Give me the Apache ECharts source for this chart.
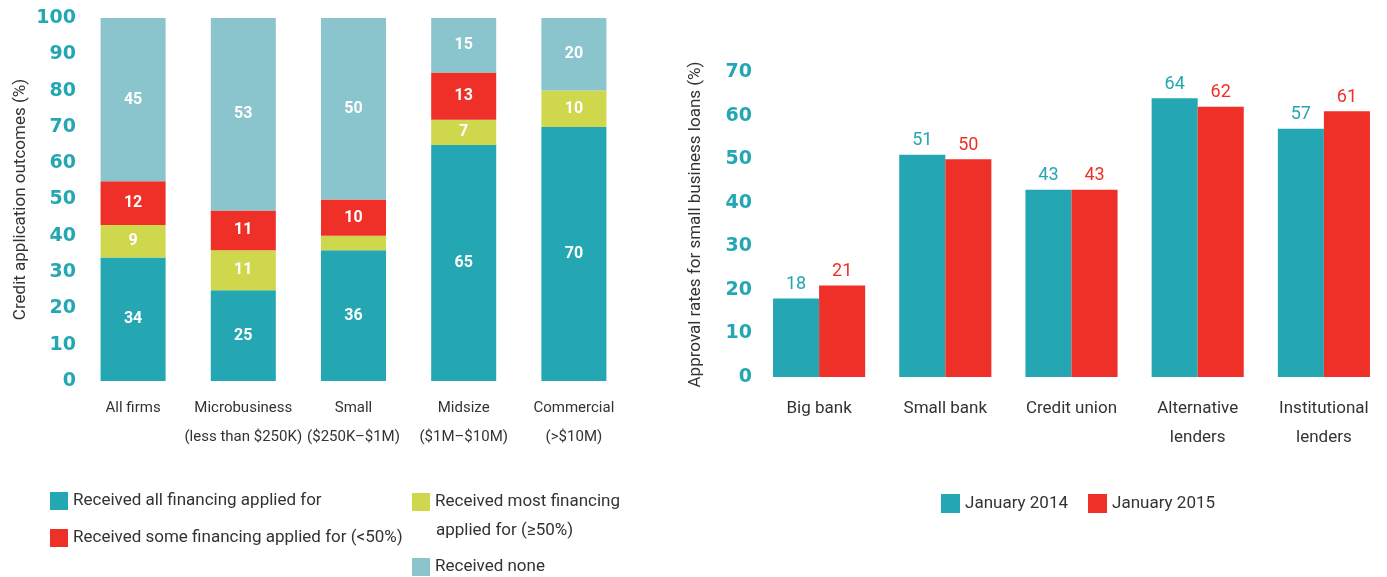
<!DOCTYPE html>
<html>
<head>
<meta charset="utf-8">
<script src="https://cdn.jsdelivr.net/npm/echarts@6/dist/echarts.min.js"></script>
<style>
  html, body { margin: 0; padding: 0; background: #fff; }
  #chart { width: 1387px; height: 577px; }
</style>
</head>
<body>
<div id="chart"></div>
<script>
// left chart: credit application outcomes by firm size
const firmTypes = ['All firms', 'Microbusiness\n(less than $250K)', 'Small\n($250K–$1M)', 'Midsize\n($1M–$10M)', 'Commercial\n(>$10M)'];
const receivedAll = [34, 25, 36, 65, 70];
const receivedMost = [9, 11, 4, 7, 10];
const receivedSome = [12, 11, 10, 13, 0];
const receivedNone = [45, 53, 50, 15, 20];

// right chart: approval rates by lender
const lenders = ['Big bank', 'Small bank', 'Credit union', 'Alternative\nlenders', 'Institutional\nlenders'];
const jan2014 = [18, 51, 43, 64, 57];
const jan2015 = [21, 50, 43, 62, 61];

const TEAL = '#24a7b3';
const RED = '#ee3028';
const YELLOW = '#cfd74d';
const LIGHT = '#8ac4cc';
const FONT = 'Roboto, "Noto Sans", sans-serif';
const MOST = 'Received most financing applied for (≥50%)';

const chart = echarts.init(document.getElementById('chart'));

// white numbers inside stacked bars, hidden for very thin segments
function stackSeries(name, data, color) {
  return {
    name: name,
    type: 'bar',
    stack: 'outcomes',
    xAxisIndex: 0,
    yAxisIndex: 0,
    barWidth: '59%',
    itemStyle: { color: color },
    label: {
      show: true,
      color: '#fff',
      fontFamily: FONT,
      fontWeight: 'bold',
      fontSize: 16,
      formatter: p => (p.value >= 5 ? p.value : '')
    },
    data: data
  };
}

function rateSeries(name, data, color) {
  return {
    name: name,
    type: 'bar',
    xAxisIndex: 1,
    yAxisIndex: 1,
    barGap: '0%',
    barCategoryGap: '27%',
    itemStyle: { color: color },
    label: {
      show: true,
      position: 'top',
      distance: 5,
      color: color,
      fontFamily: FONT,
      fontSize: 18
    },
    data: data
  };
}

const legendText = { color: '#333', fontFamily: FONT, fontSize: 17 };

const option = {
  animation: false,
  grid: [
    { left: 78, right: 1387 - 629, top: 18, bottom: 196 },
    { left: 756, right: -4, top: 72, bottom: 200 }
  ],
  legend: [
    {
      left: 45, top: 487, orient: 'vertical', itemGap: 19,
      itemWidth: 18, itemHeight: 18, icon: 'rect',
      textStyle: legendText,
      data: ['Received all financing applied for', 'Received some financing applied for (<50%)']
    },
    {
      left: 407, top: 488, itemWidth: 18, itemHeight: 18, icon: 'rect',
      textStyle: legendText,
      formatter: () => 'Received most financing',
      data: [MOST]
    },
    {
      left: 407, top: 553, itemWidth: 18, itemHeight: 18, icon: 'rect',
      textStyle: legendText,
      data: ['Received none']
    },
    {
      left: 936, top: 489, itemGap: 20, itemWidth: 19, itemHeight: 19, icon: 'rect',
      textStyle: legendText,
      data: ['January 2014', 'January 2015']
    }
  ],
  graphic: [
    {
      type: 'text', left: 436, top: 522,
      style: { text: 'applied for (≥50%)', fill: '#333', font: '17px Roboto, "Noto Sans", sans-serif' }
    }
  ],
  xAxis: [
    {
      type: 'category', gridIndex: 0, data: firmTypes,
      axisLine: { show: false }, axisTick: { show: false },
      axisLabel: { color: '#333', fontFamily: FONT, fontSize: 15, lineHeight: 29, margin: 13, interval: 0 }
    },
    {
      type: 'category', gridIndex: 1, data: lenders,
      axisLine: { show: false }, axisTick: { show: false },
      axisLabel: { color: '#333', fontFamily: FONT, fontSize: 17, lineHeight: 29, margin: 17, interval: 0 }
    }
  ],
  yAxis: [
    {
      type: 'value', gridIndex: 0, min: 0, max: 100, interval: 10,
      name: 'Credit application outcomes (%)', nameLocation: 'middle', nameGap: 49,
      nameTextStyle: { color: '#333', fontFamily: FONT, fontSize: 17 },
      splitLine: { show: false },
      axisLabel: { color: TEAL, fontFamily: '"DejaVu Sans", sans-serif', fontWeight: 'bold', fontSize: 19, margin: 2 }
    },
    {
      type: 'value', gridIndex: 1, min: 0, max: 70, interval: 10,
      name: 'Approval rates for small business loans (%)', nameLocation: 'middle', nameGap: 52,
      nameTextStyle: { color: '#333', fontFamily: FONT, fontSize: 17 },
      splitLine: { show: false },
      axisLabel: { color: TEAL, fontFamily: '"DejaVu Sans", sans-serif', fontWeight: 'bold', fontSize: 19, margin: 4 }
    }
  ],
  series: [
    stackSeries('Received all financing applied for', receivedAll, TEAL),
    stackSeries(MOST, receivedMost, YELLOW),
    stackSeries('Received some financing applied for (<50%)', receivedSome, RED),
    stackSeries('Received none', receivedNone, LIGHT),
    rateSeries('January 2014', jan2014, TEAL),
    rateSeries('January 2015', jan2015, RED)
  ]
};

chart.setOption(option);
</script>
</body>
</html>
